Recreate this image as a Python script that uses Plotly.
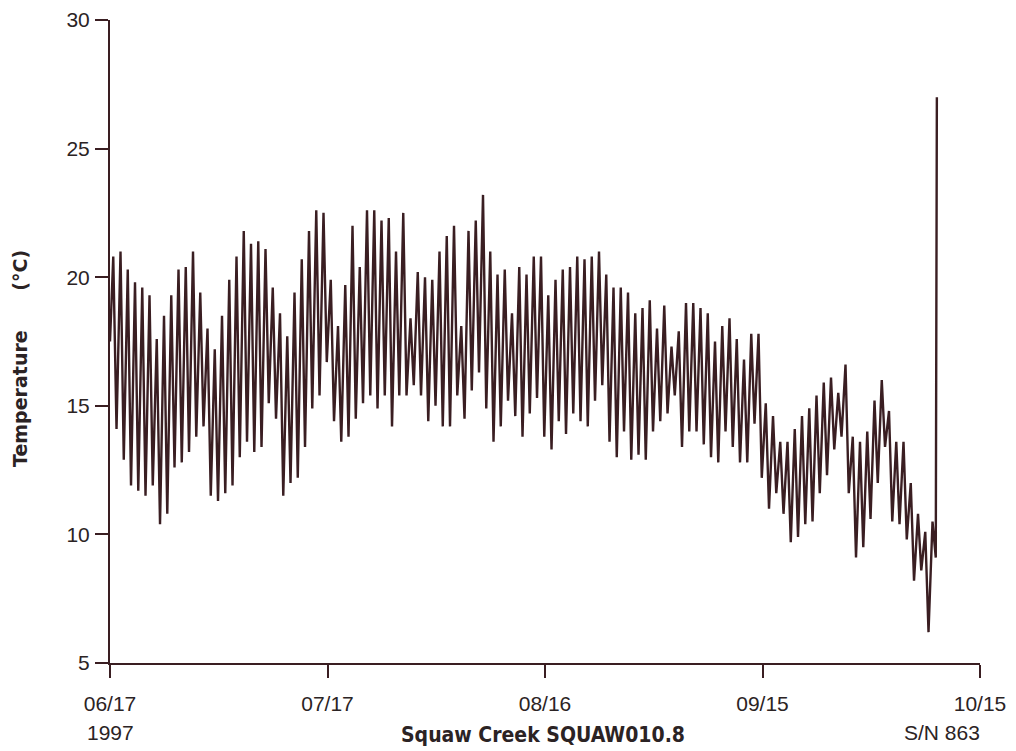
import pandas as pd
import plotly.graph_objects as go

# ---- data (deg C) ----
start_date = "1997-06-17"
start_temp = 17.5
daily_max = [
    20.8, 21.0, 20.3, 19.8, 19.6, 19.3, 17.6, 18.5, 19.3, 20.3, 20.4, 21.0, 19.4, 18.0, 17.2, 18.5,
    19.9, 20.8, 21.8, 21.3, 21.4, 21.1, 19.6, 18.6,
    17.7, 19.4, 20.7, 21.8, 22.6, 22.5, 19.9, 18.1, 19.7, 22.0, 20.4, 22.6, 22.6, 22.2, 22.3, 21.0,
    22.5, 18.4, 20.2, 20.0, 19.9, 21.0, 21.6,
    22.0, 18.1, 21.8, 22.2, 23.2, 21.0, 20.1, 20.3, 18.6, 20.4, 20.1, 20.8, 20.8, 19.3, 19.9, 20.3,
    20.4, 20.8, 20.7, 20.8, 21.0, 20.1, 19.6,
    19.6, 19.4, 18.6, 18.8, 19.1, 18.0, 18.9, 17.3, 17.9, 19.0, 19.0, 18.8, 18.6, 17.5, 18.1, 18.4,
    17.6, 16.8, 17.8, 17.8, 15.1, 14.6, 13.6, 13.6,
    14.1, 14.6, 14.9, 15.4, 15.9, 16.1, 15.5, 16.6, 13.8, 13.6, 14.0, 15.2, 16.0, 14.8, 13.6, 13.6,
    12.0, 10.8, 10.1, 10.5,
]
daily_min = [
    14.1, 12.9, 11.9, 11.7, 11.5, 11.9, 10.4, 10.8, 12.6, 12.8, 13.2, 13.8, 14.2, 11.5, 11.3, 11.6,
    11.9, 13.0, 13.6, 13.2, 13.4, 15.1,
    14.5, 11.5, 12.0, 12.2, 13.4, 14.9, 15.4, 16.7, 14.4, 13.6, 13.8, 14.5, 15.1, 15.4, 14.9, 15.4,
    14.2, 15.4, 15.4, 15.8, 15.4, 14.4, 15.0, 14.2,
    14.2, 15.4, 14.5, 15.6, 16.3, 14.9, 13.6, 14.2, 15.2, 14.6, 13.8, 14.7, 15.3, 13.8, 13.3, 14.4,
    13.9, 14.7, 14.4, 14.2, 15.2, 15.8, 13.6, 13.0,
    14.0, 12.9, 13.1, 12.9, 14.0, 14.4, 14.7, 15.4, 13.4, 14.0, 14.0, 13.5, 13.0, 12.8, 14.0, 13.4,
    12.8, 12.8, 14.3, 12.2, 11.0, 11.6, 10.8,
    9.7, 9.9, 10.4, 10.5, 11.6, 12.3, 13.3, 13.8, 11.6, 9.1, 9.5, 10.6, 12.0, 13.4, 10.5, 10.4,
    9.8, 8.2, 8.6, 6.2, 9.1,
]
end_temp = 27.0  # logger removed from water

tick_dates = ["1997-06-17", "1997-07-17", "1997-08-16", "1997-09-15", "1997-10-15"]
tick_text = ["06/17", "07/17", "08/16", "09/15", "10/15"]
y_ticks = [5, 10, 15, 20, 25, 30]

# ---- build the time series (afternoon max, night min each day) ----
t0 = pd.Timestamp(start_date)
times = [t0]
temps = [start_temp]
for i, (hi, lo) in enumerate(zip(daily_max, daily_min)):
    times.append(t0 + pd.Timedelta(days=i + 0.45))
    temps.append(hi)
    times.append(t0 + pd.Timedelta(days=i + 0.90))
    temps.append(lo)
times.append(t0 + pd.Timedelta(days=len(daily_max) + 0.05))
temps.append(end_temp)

INK = "#3a1e22"
TXT = "#2b2324"
TICKFONT = "Liberation Sans, Arial, sans-serif"
BOLDFONT = "DejaVu Sans Condensed, DejaVu Sans, sans-serif"
YTFONT = "DejaVu Sans, sans-serif"

fig = go.Figure()
fig.add_trace(go.Scatter(x=times, y=temps, mode="lines",
                         line=dict(color=INK, width=2.4), hoverinfo="skip"))

# page is rendered with an 8px body margin -> work in page pixels, shift by 8
OFF = 8
W, H = 1000, 743
L, R, T, B = 110 - OFF, 980 - OFF, 20 - OFF, 663 - OFF


def px(xp):  # page pixel -> paper x
    return (xp - OFF - L) / (R - L)


def py(yp):  # page pixel -> paper y
    return (B - (yp - OFF)) / (B - T)


fig.update_layout(
    template="none",
    width=W, height=H,
    margin=dict(l=L, r=W - R, t=T, b=H - B, autoexpand=False),
    paper_bgcolor="white", plot_bgcolor="white",
    showlegend=False,
    xaxis=dict(
        type="date", range=[tick_dates[0], tick_dates[-1]], automargin=False,
        tickvals=tick_dates, ticktext=tick_text,
        showgrid=False, zeroline=False, showline=True, linecolor=INK, linewidth=2,
        ticks="outside", ticklen=13, tickwidth=1.5, tickcolor=INK,
        tickfont=dict(family=TICKFONT, size=21, color=TXT),
        ticklabelstandoff=8,
    ),
    yaxis=dict(
        range=[5, 30], tickvals=y_ticks, automargin=False,
        showgrid=False, zeroline=False, showline=True, linecolor=INK, linewidth=2,
        ticks="outside", ticklen=13, tickwidth=1.5, tickcolor=INK,
        tickfont=dict(family=TICKFONT, size=21, color=TXT),
        ticklabelstandoff=1,
    ),
)

fig.add_annotation(text="1997", xref="paper", yref="paper", x=px(110), y=py(719),
                   xanchor="center", yanchor="top", showarrow=False,
                   font=dict(family=TICKFONT, size=21, color=TXT))
fig.add_annotation(text="S/N 863", xref="paper", yref="paper", x=px(982), y=py(719),
                   xanchor="right", yanchor="top", showarrow=False,
                   font=dict(family=TICKFONT, size=21, color=TXT))
fig.add_annotation(text="<b>Squaw Creek SQUAW010.8</b>", xref="paper", yref="paper",
                   x=px(543), y=py(721), xanchor="center", yanchor="top", showarrow=False,
                   font=dict(family=BOLDFONT, size=21, color=TXT))
fig.add_annotation(text="<b>Temperature" + "\u00a0" * 6 + "(°C)</b>", xref="paper", yref="paper",
                   x=px(20), y=py(359), xanchor="center", yanchor="middle", textangle=-90,
                   showarrow=False, font=dict(family=YTFONT, size=19, color=TXT))

fig.write_html("out.html")
